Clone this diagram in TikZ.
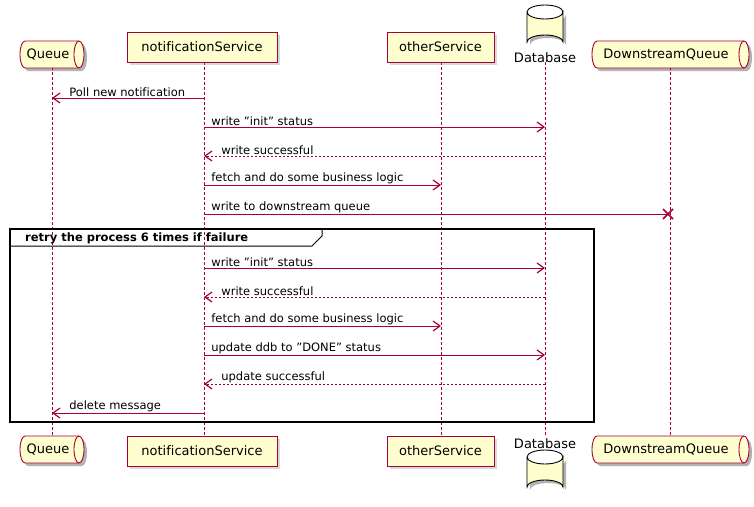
\documentclass[tikz,border=0pt]{standalone}
\usepackage{fontspec}
\setmainfont{DejaVu Sans}[Ligatures=NoCommon]
\usetikzlibrary{shapes.geometric,shadows,arrows.meta}
\definecolor{pf}{HTML}{FEFECE}
\definecolor{pb}{HTML}{A80036}
\newcommand\dq{\char34\relax}
\begin{document}
\begin{tikzpicture}[x=1pt,y=-1pt,
  font=\fontsize{13}{15}\selectfont,
  part/.style={draw=pb,fill=pf,line width=0.9pt,drop shadow={shadow xshift=3pt,shadow yshift=-3pt,opacity=0.3},inner sep=0pt,minimum height=30pt},
  life/.style={pb,densely dashed,line width=0.6pt},
  msg/.style={pb,line width=0.8pt,-{Straight Barb[length=7pt,width=10pt,line width=1.2pt]}},
  ret/.style={msg,dash pattern=on 2pt off 2pt},
  lbl/.style={anchor=south west,inner sep=1pt,text=black,font=\fontsize{11.5}{13}\selectfont}]
\useasboundingbox (0,0) rectangle (754,506);
\tikzset{queue/.pic={
  \path[fill=black,opacity=0.3] (-\qw+3+5,3) -- (\qw+3-5,3) arc[start angle=-90,end angle=90,x radius=5,y radius=13.5] -- (-\qw+3+5,30) arc[start angle=90,end angle=270,x radius=5,y radius=13.5];
  \draw[draw=pb,fill=pf,line width=0.9pt] (-\qw+5,0) -- (\qw-5,0) arc[start angle=-90,end angle=90,x radius=5,y radius=13.5] -- (-\qw+5,27) arc[start angle=90,end angle=270,x radius=5,y radius=13.5];
  \draw[pb,line width=0.9pt] (\qw-5,0) arc[start angle=-90,end angle=-270,x radius=5,y radius=13.5];
}}
\tikzset{db/.pic={
  \path[fill=black,opacity=0.3] (-18+3,7+3) -- (-18+3,37+3) arc[start angle=180,end angle=360,x radius=18,y radius=7] -- (18+3,7+3) arc[start angle=0,end angle=180,x radius=18,y radius=7];
  \draw[line width=0.9pt,fill=pf] (-18,7) -- (-18,37) arc[start angle=180,end angle=360,x radius=18,y radius=7] -- (18,7) arc[start angle=0,end angle=180,x radius=18,y radius=7];
  \draw[line width=0.9pt] (-18,7) arc[start angle=180,end angle=360,x radius=18,y radius=7];
}}
\foreach \x in {52,204,441,545,670} \draw[life] (\x,62) -- (\x,436);
% top participants
\def\qw{32}
\pic at (52,41) {queue};
\node (q) at (48,54.5) {Queue};
\node[part,minimum width=150pt] (ns) at (202,47) {notificationService};
\node[part,minimum width=107pt] (os) at (440.5,47) {otherService};
\pic at (545,5) {db};
\node (db) at (545,58) {Database};
\def\qw{78.5}
\pic at (670.5,41) {queue};
\node (dq) at (666,54.5) {DownstreamQueue};
% bottom participants
\def\qw{32}
\pic at (52,436) {queue};
\node (q2) at (48,449.5) {Queue};
\node[part,minimum width=150pt] (ns2) at (202,451) {notificationService};
\node[part,minimum width=107pt] (os2) at (440.5,451) {otherService};
\pic at (545,450) {db};
\node (db2) at (545,444) {Database};
\def\qw{78.5}
\pic at (670.5,436) {queue};
\node (dq2) at (666,449.5) {DownstreamQueue};
% group
\draw[line width=1.4pt] (10,229) rectangle (594,422);
\draw[line width=1pt] (10,246) -- (312,246) -- (322,236) -- (322,229);
\node[anchor=west,font=\bfseries\fontsize{11.5}{13}\selectfont,inner sep=0pt] (g) at (25,238) {retry the process 6 times if failure};
% messages
\draw[msg] (204,98) -- (52,98) node[lbl,pos=1,xshift=16pt] {Poll new notification};
\draw[msg] (204,127) -- (545,127) node[lbl,pos=0,xshift=6pt] {write \dq init\dq{} status};
\draw[ret] (545,156) -- (204,156) node[lbl,pos=1,xshift=16pt] {write successful};
\draw[msg] (204,185) -- (441,185) node[lbl,pos=0,xshift=6pt] {fetch and do some business logic};
\draw[pb,line width=0.8pt] (204,214) -- (668,214) node[lbl,pos=0,xshift=6pt] {write to downstream queue};
\draw[pb,line width=1.6pt] (663,209) -- (673,219) (663,219) -- (673,209);
\draw[msg] (204,268) -- (545,268) node[lbl,pos=0,xshift=6pt] {write \dq init\dq{} status};
\draw[ret] (545,297) -- (204,297) node[lbl,pos=1,xshift=16pt] {write successful};
\draw[msg] (204,326) -- (441,326) node[lbl,pos=0,xshift=6pt] {fetch and do some business logic};
\draw[msg] (204,355) -- (545,355) node[lbl,pos=0,xshift=6pt] {update ddb to \dq DONE\dq{} status};
\draw[ret] (545,384) -- (204,384) node[lbl,pos=1,xshift=16pt] {update successful};
\draw[msg] (204,413) -- (52,413) node[lbl,pos=1,xshift=16pt] {delete message};
\end{tikzpicture}
\end{document}
